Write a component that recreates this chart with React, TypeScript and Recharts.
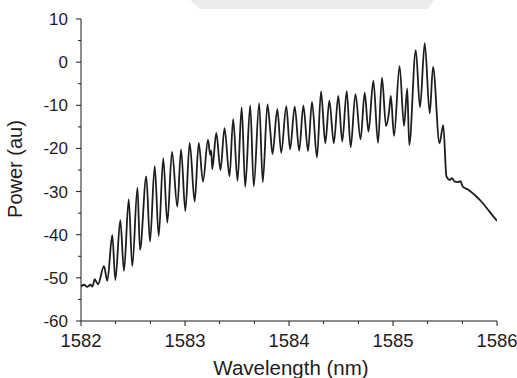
import React from "react";
import { LineChart, Line, XAxis, YAxis } from "recharts";

const wavelength = [
  1582.0, 1582.03, 1582.06, 1582.09, 1582.11, 1582.132, 1582.163, 1582.221, 1582.253, 1582.301,
  1582.33, 1582.378, 1582.413, 1582.459, 1582.493, 1582.543, 1582.567, 1582.628, 1582.663, 1582.709,
  1582.747, 1582.791, 1582.83, 1582.875, 1582.926, 1582.962, 1583.003, 1583.045, 1583.093, 1583.132,
  1583.173, 1583.221, 1583.243, 1583.253, 1583.262, 1583.301, 1583.341, 1583.38, 1583.428, 1583.463,
  1583.505, 1583.545, 1583.579, 1583.627, 1583.661, 1583.713, 1583.748, 1583.793, 1583.82, 1583.841,
  1583.888, 1583.925, 1583.974, 1584.01, 1584.055, 1584.098, 1584.138, 1584.183, 1584.221, 1584.269,
  1584.308, 1584.349, 1584.388, 1584.431, 1584.474, 1584.512, 1584.555, 1584.593, 1584.639, 1584.688,
  1584.728, 1584.764, 1584.811, 1584.856, 1584.894, 1584.933, 1584.962, 1584.979, 1585.01, 1585.063,
  1585.106, 1585.137, 1585.156, 1585.219, 1585.26, 1585.305, 1585.353, 1585.385, 1585.447, 1585.483,
  1585.514, 1585.545, 1585.567, 1585.593, 1585.625, 1585.647, 1585.673, 1585.721, 1585.786, 1585.849,
  1585.93, 1586.0,
];

const power = [
  -52.0, -51.6, -52.1, -51.6, -52.0, -50.3, -51.5, -47.3, -50.7, -40.1,
  -50.5, -36.6, -48.4, -31.8, -47.3, -29.1, -43.5, -26.5, -41.6, -24.1,
  -40.3, -22.3, -37.2, -20.8, -33.5, -20.2, -34.5, -18.7, -32.3, -18.7,
  -27.7, -18.0, -21.5, -20.5, -24.8, -16.4, -25.0, -15.3, -26.5, -13.2,
  -27.5, -10.5, -28.9, -10.0, -28.8, -9.5, -27.8, -9.8, -16.0, -21.3,
  -10.9, -21.0, -10.2, -20.2, -10.3, -20.5, -10.1, -20.6, -9.2, -22.1,
  -6.8, -18.8, -8.9, -18.8, -7.8, -18.4, -6.7, -19.7, -7.4, -17.9,
  -7.1, -16.1, -4.3, -18.7, -3.6, -14.8, -11.5, -7.8, -17.1, -0.9,
  -14.8, -6.1, -19.2, 2.8, -10.5, 4.4, -11.9, -1.1, -18.8, -14.6,
  -26.5, -27.3, -26.9, -27.7, -27.8, -27.6, -28.9, -29.5, -30.8, -32.3,
  -34.7, -36.8,
];

const xMajorTicks = [1582, 1583, 1584, 1585, 1586];
const xAllTicks = [
  1582, 1582.333, 1582.667, 1583, 1583.333, 1583.667, 1584, 1584.333, 1584.667,
  1585, 1585.333, 1585.667, 1586,
];
const yMajorTicks = [-60, -50, -40, -30, -20, -10, 0, 10];
const yAllTicks = [-60, -55, -50, -45, -40, -35, -30, -25, -20, -15, -10, -5, 0, 5, 10];

const data = wavelength.map((w, i) => ({ w, p: power[i] }));

const FONT = "'Liberation Sans', Arial, Helvetica, sans-serif";
const INK = "#1f1c1d";
const TICK_SIZE = 5;
const TICK_MARGIN = 6;

const XTick = (props: any) => {
  const { x, y, payload } = props;
  const axisY = y - TICK_SIZE - TICK_MARGIN;
  const v = payload.value;
  const major = xMajorTicks.some((m) => Math.abs(m - v) < 1e-6);
  return (
    <g>
      <line x1={x} x2={x} y1={axisY} y2={axisY + (major ? 5 : 3)} stroke={INK} strokeWidth={1} />
      {major && (
        <text x={x} y={axisY + 26} textAnchor="middle" fontSize={18.5} fontFamily={FONT} fill={INK}>
          {v}
        </text>
      )}
    </g>
  );
};

const YTick = (props: any) => {
  const { x, y, payload } = props;
  const axisX = x + TICK_SIZE + TICK_MARGIN;
  const v = payload.value;
  const major = yMajorTicks.includes(v);
  return (
    <g>
      <line x1={axisX - (major ? 5 : 3)} x2={axisX} y1={y} y2={y} stroke={INK} strokeWidth={1} />
      {major && (
        <text x={axisX - 13} y={y + 6} textAnchor="end" fontSize={17} fontFamily={FONT} fill={INK}>
          {v}
        </text>
      )}
    </g>
  );
};

export default function App() {
  return (
    <div style={{ position: "absolute", left: 0, top: 0, width: 517, height: 378, background: "#fff" }}>
      <div
        style={{
          position: "absolute",
          left: 0,
          top: 0,
          width: 517,
          height: 9,
          background: "#ececec",
          clipPath: "polygon(190px 0, 434px 0, 428px 9px, 200px 9px)",
        }}
      />
      <div style={{ position: "absolute", left: 0, top: 0 }}>
        <LineChart width={517} height={378} data={data} margin={{ top: 19, right: 20, bottom: 0, left: 0 }}>
          <XAxis
            dataKey="w"
            type="number"
            domain={[1582, 1586]}
            ticks={xAllTicks}
            interval={0}
            height={57}
            tickLine={false}
            tickSize={TICK_SIZE}
            tickMargin={TICK_MARGIN}
            tick={<XTick />}
            axisLine={{ stroke: INK, strokeWidth: 1 }}
            allowDataOverflow
          />
          <YAxis
            type="number"
            domain={[-60, 10]}
            ticks={yAllTicks}
            interval={0}
            width={81}
            tickLine={false}
            tickSize={TICK_SIZE}
            tickMargin={TICK_MARGIN}
            tick={<YTick />}
            axisLine={{ stroke: INK, strokeWidth: 1 }}
            allowDataOverflow
          />
          <Line
            dataKey="p"
            type="monotone"
            stroke={INK}
            strokeWidth={1.8}
            dot={false}
            isAnimationActive={false}
          />
        </LineChart>
      </div>
      <svg
        width={517}
        height={378}
        style={{ position: "absolute", left: 0, top: 0, pointerEvents: "none" }}
      >
        <text x={291} y={375} textAnchor="middle" fontSize={20.5} fontFamily={FONT} fill={INK}>
          Wavelength (nm)
        </text>
        <text
          x={22}
          y={169}
          textAnchor="middle"
          fontSize={20}
          fontFamily={FONT}
          fill={INK}
          transform="rotate(-90 22 169)"
        >
          Power (au)
        </text>
      </svg>
    </div>
  );
}
